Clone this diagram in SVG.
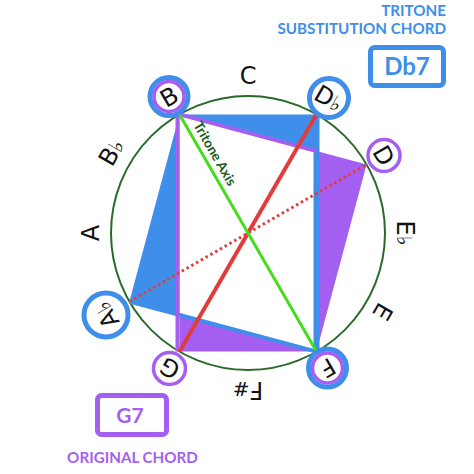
<svg xmlns="http://www.w3.org/2000/svg" width="474" height="474" viewBox="0 0 474 474">
<style>
.note{font-family:"DejaVu Sans","Liberation Sans",sans-serif;font-size:24px;fill:#111;text-anchor:middle}
.flat{font-size:21px}
.hdr{font-family:Lato,"Liberation Sans",sans-serif;font-weight:bold;font-size:15.2px}
.blue{fill:#3f8fea}
.purple{fill:#a55ff0}
.bring{fill:#fff;stroke:#3f8fea;stroke-width:5}
.pring{fill:#fff;stroke:#a55ff0;stroke-width:3.5}
.pinner{fill:none;stroke:#a55ff0;stroke-width:3.5}
</style>
<rect width="474" height="474" fill="#fff"/>
<circle cx="248" cy="233" r="137" fill="none" stroke="#2a6a2a" stroke-width="2"/>
<g id="chord-shapes">
<polygon class="blue" points="179.5,114.4 316.5,114.4 316.5,151.1"/>
<polygon class="blue" points="179.5,114.4 129.4,301.5 179.5,314.9"/>
<polygon class="purple" points="316.5,151.1 366.6,164.5 316.5,351.6"/>
<polygon class="purple" points="179.5,314.9 179.5,351.6 316.5,351.6"/>
</g>
<g id="connectors" fill="none">
<line x1="316.5" y1="114.4" x2="316.5" y2="351.6" stroke="#3f8fea" stroke-width="6"/>
<line x1="129.4" y1="301.5" x2="316.5" y2="351.6" stroke="#3f8fea" stroke-width="4"/>
<line x1="177.5" y1="114.4" x2="177.5" y2="351.6" stroke="#a55ff0" stroke-width="4"/>
<line x1="179.5" y1="114.4" x2="316.5" y2="151.1" stroke="#a55ff0" stroke-width="4"/>
<line x1="316.5" y1="114.4" x2="179.5" y2="351.6" stroke="#e23b3b" stroke-width="4"/>
<line x1="129.4" y1="301.5" x2="366.6" y2="164.5" stroke="#e23b3b" stroke-width="3" stroke-dasharray="2.5 3"/>
<line x1="179.5" y1="114.4" x2="316.5" y2="351.6" stroke="#44dd1c" stroke-width="3"/>
</g>
<text transform="translate(193,125) rotate(60)" font-family="Lato,'Liberation Sans',sans-serif" font-weight="bold" font-size="13.5" fill="#1c5a1c">Tritone Axis</text>
<g id="label-C"><text class="note" transform="translate(248,75)" y="8.7">C</text></g>
<g id="label-Eb"><text class="note" transform="translate(406,233) rotate(90)" y="8.7">E<tspan class="flat">♭</tspan></text></g>
<g id="label-E"><text class="note" transform="translate(383,312) rotate(120)" y="8.7">E</text></g>
<g id="label-Fs"><text class="note" transform="translate(248,391) rotate(180)" y="8.7">F<tspan font-size="20">#</tspan></text></g>
<g id="label-A"><text class="note" transform="translate(90,233) rotate(-90)" y="8.7">A</text></g>
<g id="label-Bb"><text class="note" transform="translate(111,152) rotate(-60)" y="8.7">B<tspan class="flat">♭</tspan></text></g>
<g id="node-B">
<circle class="bring" cx="169" cy="96.5" r="19"/>
<circle class="pinner" cx="169" cy="96.5" r="15"/>
<text class="note" transform="translate(169,96.5) rotate(-30)" y="8.7">B</text>
</g>
<g id="node-Db">
<circle class="bring" cx="329" cy="98" r="19.5"/>
<text class="note" transform="translate(329,98) rotate(30)" y="8.7">D<tspan class="flat">♭</tspan></text>
</g>
<g id="node-D">
<circle class="pring" cx="384" cy="155.5" r="16"/>
<text class="note" transform="translate(384,155.5) rotate(60)" y="8.7">D</text>
</g>
<g id="node-F">
<circle class="bring" cx="327.5" cy="368" r="19"/>
<circle class="pinner" cx="327.5" cy="368" r="15"/>
<text class="note" transform="translate(327.5,368) rotate(150)" y="8.7">F</text>
</g>
<g id="node-G">
<circle class="pring" cx="169.5" cy="368.5" r="16"/>
<text class="note" transform="translate(169.5,368.5) rotate(210)" y="8.7">G</text>
</g>
<g id="node-Ab">
<circle class="bring" cx="106" cy="315" r="22"/>
<text class="note" transform="translate(106,315) rotate(240)" y="8.7">A<tspan class="flat">♭</tspan></text>
</g>
<g id="db7-box">
<text class="hdr blue" x="446" y="16" text-anchor="end">TRITONE</text>
<text class="hdr blue" x="446" y="34" text-anchor="end">SUBSTITUTION CHORD</text>
<rect x="370.5" y="47.5" width="73" height="38" rx="4" fill="#fff" stroke="#3f8fea" stroke-width="5"/>
<text class="blue" x="407" y="75" text-anchor="middle" font-family="Lato,'Liberation Sans',sans-serif" font-weight="bold" font-size="24">Db7</text>
</g>
<g id="g7-box">
<rect x="97.5" y="395.5" width="69" height="39" rx="4" fill="#fff" stroke="#a55ff0" stroke-width="5"/>
<text class="purple" x="130" y="423" text-anchor="middle" font-family="Lato,'Liberation Sans',sans-serif" font-weight="bold" font-size="21">G7</text>
<text class="hdr purple" x="132.5" y="463" text-anchor="middle">ORIGINAL CHORD</text>
</g>
</svg>
